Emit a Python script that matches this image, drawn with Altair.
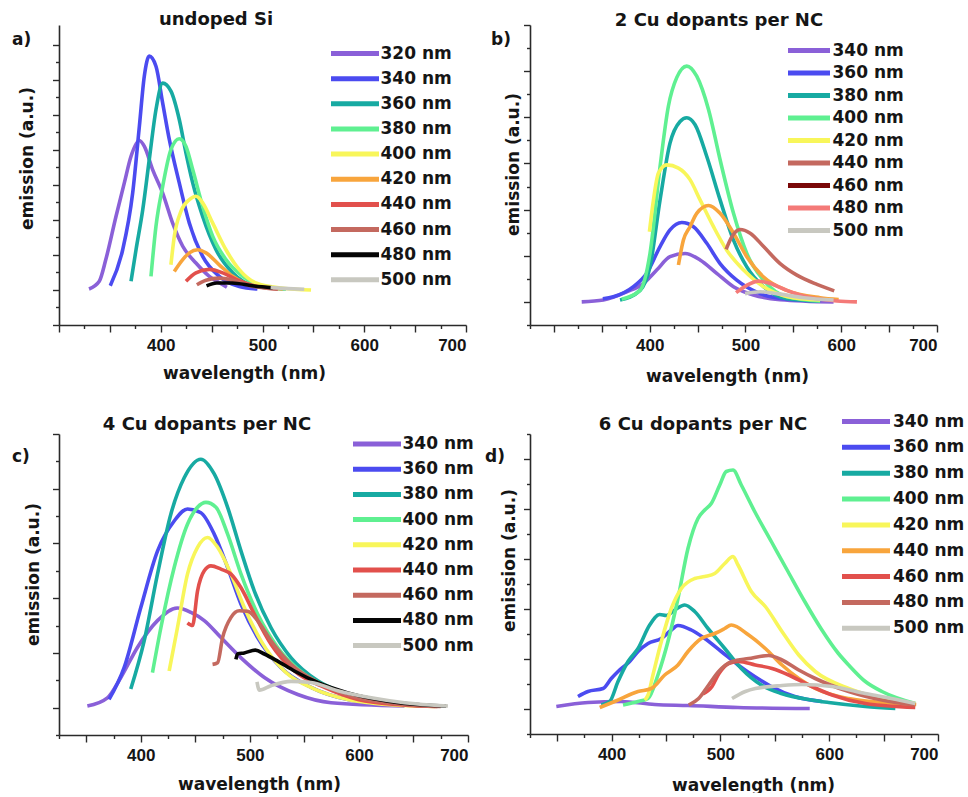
import altair as alt
import pandas as pd

# ---------------------------------------------------------------------------
# Emission spectra: each list holds (emission wavelength in nm, emission a.u.)
# ---------------------------------------------------------------------------

# a) undoped Si, excitation wavelength given by the name
a_320 = [(329.5, 0.03), (339.6, 0.25), (346.0, 0.87), (356.0, 2.10), (364.2, 3.06),
         (370.8, 3.82), (379.0, 4.27), (383.9, 4.10), (392.0, 3.44), (401.9, 2.77),
         (411.7, 1.91), (421.6, 1.25), (434.6, 0.77), (447.7, 0.39), (458.0, 0.20),
         (465.0, 0.08)]
a_340 = [(350.4, 0.12), (362.6, 1.15), (372.4, 2.77), (379.0, 4.68), (383.8, 6.10),
         (388.7, 6.68), (395.3, 6.39), (401.9, 5.34), (408.4, 4.30), (418.2, 3.06),
         (428.1, 1.91), (441.2, 0.96), (457.5, 0.39), (477.2, 0.10), (495.0, 0.03)]
a_360 = [(370.8, 0.25), (375.7, 1.15), (382.3, 2.29), (388.7, 3.72), (395.3, 5.15),
         (401.9, 5.91), (410.0, 5.68), (418.2, 4.87), (424.8, 3.91), (431.4, 3.06),
         (441.2, 2.10), (454.3, 1.15), (470.7, 0.49), (493.6, 0.10), (523.0, 0.03)]
a_380 = [(390.4, 0.39), (395.3, 1.82), (401.9, 2.96), (410.0, 4.01), (418.2, 4.32),
         (424.8, 4.10), (431.4, 3.44), (441.2, 2.39), (451.1, 1.53), (464.1, 0.87),
         (480.5, 0.39), (500.2, 0.10), (523.0, 0.03)]
a_400 = [(410.0, 0.72), (413.3, 1.53), (419.9, 2.25), (428.1, 2.58), (434.6, 2.68),
         (441.2, 2.49), (451.1, 1.91), (464.1, 1.15), (477.2, 0.58), (493.6, 0.20),
         (520.0, 0.05), (547.7, 0.00)]
a_420 = [(413.3, 0.53), (421.6, 0.87), (428.1, 1.06), (436.3, 1.15), (444.5, 1.06),
         (457.5, 0.72), (470.7, 0.39), (487.0, 0.15), (520.0, 0.03)]
a_440 = [(424.8, 0.25), (434.6, 0.49), (447.7, 0.59), (460.9, 0.49), (474.0, 0.30),
         (490.4, 0.13), (515.0, 0.03)]
a_460 = [(435.5, 0.15), (444.5, 0.28), (457.5, 0.34), (470.7, 0.28), (487.0, 0.13),
         (515.0, 0.02)]
a_480 = [(445.0, 0.12), (455.0, 0.20), (470.0, 0.20), (490.0, 0.12), (510.0, 0.06)]
a_500 = [(508.0, 0.07), (525.0, 0.04), (541.0, 0.02)]

# b) 2 Cu dopants per NC
b_340 = [(329.0, 0.00), (351.6, 0.04), (376.0, 0.22), (393.4, 0.40), (407.3, 0.69),
         (421.2, 0.98), (436.9, 1.05), (452.6, 0.91), (470.0, 0.62), (487.5, 0.33),
         (508.4, 0.15), (536.2, 0.05), (592.0, 0.00)]
b_360 = [(351.0, 0.07), (362.0, 0.11), (383.0, 0.33), (396.9, 0.62), (410.8, 1.20),
         (421.2, 1.56), (433.5, 1.72), (445.7, 1.63), (459.6, 1.27), (473.5, 0.83),
         (490.9, 0.47), (515.3, 0.18), (543.2, 0.06), (578.0, 0.02)]
b_380 = [(369.0, 0.04), (389.9, 0.25), (400.3, 0.76), (410.8, 2.21), (421.2, 3.44),
         (431.7, 3.91), (438.7, 3.99), (447.4, 3.84), (459.6, 3.15), (473.5, 2.21),
         (487.5, 1.34), (501.4, 0.76), (518.9, 0.33), (543.2, 0.07), (578.0, 0.02)]
b_400 = [(370.8, 0.06), (389.9, 0.25), (400.3, 1.05), (410.8, 2.93), (419.5, 4.24),
         (428.2, 4.86), (438.7, 5.11), (449.1, 4.89), (461.4, 4.17), (473.5, 3.08),
         (487.5, 1.92), (501.4, 1.05), (518.9, 0.47), (543.2, 0.11), (578.0, 0.02)]
b_420 = [(399.7, 1.52), (403.9, 2.21), (409.1, 2.79), (417.8, 2.97), (430.0, 2.90),
         (442.1, 2.65), (452.6, 2.21), (466.6, 1.63), (480.5, 1.12), (498.0, 0.69),
         (518.9, 0.33), (543.2, 0.12), (578.0, 0.04)]
b_440 = [(430.0, 0.80), (435.2, 1.34), (442.1, 1.63), (449.1, 1.92), (461.4, 2.09),
         (473.5, 1.92), (487.5, 1.49), (501.4, 0.98), (518.9, 0.54), (543.2, 0.25),
         (578.0, 0.09), (597.3, 0.05)]
b_460 = [(479.8, 1.14), (485.7, 1.41), (494.4, 1.57), (504.9, 1.49), (518.9, 1.20),
         (536.2, 0.83), (553.7, 0.58), (574.6, 0.38), (592.7, 0.24)]
b_480 = [(490.2, 0.20), (501.4, 0.36), (513.6, 0.45), (525.8, 0.40), (543.2, 0.25),
         (564.1, 0.11), (595.5, 0.02), (616.4, 0.00)]
b_500 = [(499.6, 0.18), (515.3, 0.22), (532.8, 0.18), (560.7, 0.09), (592.0, 0.04)]

# c) 4 Cu dopants per NC
c_340 = [(351.0, 0.03), (369.4, 0.18), (381.7, 0.55), (396.9, 1.10), (415.3, 1.59),
         (433.6, 1.82), (446.0, 1.74), (458.2, 1.59), (473.5, 1.28), (491.9, 0.91),
         (513.3, 0.55), (543.9, 0.24), (574.5, 0.09), (641.8, 0.03)]
c_360 = [(370.9, 0.15), (384.7, 0.73), (400.0, 1.83), (415.3, 2.86), (430.6, 3.41),
         (442.8, 3.63), (455.1, 3.56), (467.3, 3.17), (479.6, 2.56), (491.9, 1.89),
         (507.1, 1.28), (528.6, 0.73), (556.1, 0.37), (589.8, 0.15), (641.8, 0.05)]
c_380 = [(390.8, 0.34), (403.1, 1.22), (415.3, 2.44), (427.6, 3.54), (439.8, 4.20),
         (455.1, 4.54), (467.3, 4.27), (479.6, 3.66), (491.9, 2.86), (504.1, 2.13),
         (519.4, 1.46), (537.8, 0.91), (562.2, 0.49), (589.8, 0.24), (641.8, 0.05)]
c_400 = [(410.7, 0.64), (418.4, 1.46), (430.6, 2.56), (442.8, 3.35), (452.0, 3.66),
         (459.7, 3.75), (468.9, 3.66), (479.6, 3.17), (491.9, 2.44), (507.1, 1.71),
         (525.5, 1.10), (550.0, 0.61), (580.6, 0.31), (641.8, 0.05)]
c_420 = [(426.0, 0.67), (433.6, 1.46), (442.8, 2.44), (452.0, 2.93), (461.2, 3.11),
         (470.4, 2.93), (482.7, 2.44), (494.9, 1.83), (510.2, 1.22), (531.6, 0.67),
         (559.2, 0.34), (589.8, 0.15), (640.0, 0.04), (670.0, 0.02)]
c_440 = [(442.8, 1.55), (447.4, 1.50), (452.0, 2.13), (458.2, 2.50), (464.3, 2.59),
         (473.5, 2.53), (482.7, 2.44), (491.9, 2.19), (504.1, 1.71), (519.4, 1.16),
         (540.8, 0.67), (568.4, 0.37), (599.0, 0.15), (640.0, 0.05), (672.0, 0.02)]
c_460 = [(465.8, 0.79), (470.4, 0.82), (475.0, 1.28), (482.7, 1.65), (490.3, 1.77),
         (497.9, 1.76), (507.1, 1.59), (519.4, 1.22), (537.8, 0.79), (562.2, 0.46),
         (592.9, 0.21), (640.0, 0.06), (675.0, 0.02)]
c_480 = [(487.2, 0.88), (488.7, 0.98), (494.9, 1.00), (505.0, 1.05), (513.3, 0.98),
         (525.5, 0.85), (540.8, 0.67), (562.2, 0.46), (589.8, 0.27), (640.0, 0.08),
         (680.0, 0.03)]
c_500 = [(506.5, 0.47), (508.7, 0.32), (519.4, 0.40), (537.8, 0.48), (556.1, 0.46),
         (580.6, 0.31), (611.3, 0.18), (641.8, 0.09), (681.6, 0.03)]

# d) 6 Cu dopants per NC
d_340 = [(349.2, 0.05), (378.3, 0.13), (408.9, 0.15), (439.6, 0.09), (470.2, 0.07),
         (516.2, 0.03), (582.1, 0.01)]
d_360 = [(369.1, 0.25), (378.3, 0.35), (392.1, 0.41), (399.7, 0.61), (405.9, 0.75),
         (416.6, 0.95), (424.3, 1.15), (433.5, 1.31), (445.7, 1.41), (454.9, 1.58),
         (461.0, 1.67), (473.3, 1.58), (485.6, 1.41), (500.8, 1.15), (516.2, 0.88),
         (531.5, 0.65), (546.8, 0.45), (568.3, 0.25), (593.4, 0.15)]
d_380 = [(390.5, 0.08), (398.3, 0.15), (405.9, 0.55), (415.1, 0.95), (424.3, 1.21),
         (435.0, 1.68), (444.2, 1.89), (450.3, 1.87), (458.0, 1.98), (467.2, 2.08),
         (476.4, 1.95), (488.6, 1.61), (504.0, 1.21), (519.2, 0.81), (537.6, 0.48),
         (556.0, 0.31), (583.6, 0.18), (599.5, 0.13), (633.2, 0.05), (660.8, 0.01)]
d_400 = [(410.5, 0.08), (424.3, 0.15), (433.5, 0.21), (442.6, 0.68), (451.8, 1.35),
         (461.0, 2.21), (470.2, 3.21), (479.4, 3.81), (485.6, 3.98), (491.6, 4.11),
         (499.4, 4.48), (505.4, 4.75), (511.6, 4.78), (519.2, 4.48), (531.5, 3.95),
         (546.8, 3.35), (562.1, 2.75), (577.5, 2.15), (592.7, 1.60), (608.1, 1.12),
         (617.9, 0.88), (633.2, 0.55), (648.5, 0.35), (679.1, 0.11)]
d_420 = [(430.4, 0.18), (433.5, 0.28), (438.0, 0.68), (445.7, 1.35), (454.9, 2.01),
         (464.1, 2.41), (476.4, 2.61), (485.6, 2.65), (494.8, 2.71), (504.0, 2.91),
         (511.6, 3.05), (516.2, 2.88), (528.4, 2.35), (541.3, 2.05), (556.6, 1.55),
         (572.0, 1.08), (587.2, 0.75), (617.9, 0.41), (648.5, 0.21), (679.1, 0.11)]
d_440 = [(389.1, 0.03), (402.8, 0.15), (424.3, 0.35), (436.5, 0.41), (448.8, 0.68),
         (461.0, 0.88), (470.2, 1.15), (482.4, 1.41), (494.8, 1.51), (504.0, 1.61),
         (510.0, 1.68), (526.0, 1.48), (541.3, 1.21), (556.6, 0.88), (572.0, 0.61),
         (587.2, 0.41), (617.9, 0.21), (663.9, 0.11), (680.0, 0.09)]
d_460 = [(484.0, 0.30), (492.3, 0.45), (498.4, 0.70), (507.6, 0.91), (516.8, 0.95),
         (532.1, 0.88), (547.4, 0.81), (562.8, 0.68), (581.2, 0.48), (602.6, 0.28),
         (633.2, 0.11), (679.1, 0.03)]
d_480 = [(470.9, 0.08), (480.0, 0.21), (489.2, 0.48), (498.4, 0.75), (510.7, 0.95),
         (526.0, 1.01), (544.4, 1.07), (556.6, 0.98), (572.0, 0.78), (587.2, 0.61),
         (617.9, 0.35), (648.5, 0.18), (679.1, 0.08)]
d_500 = [(510.7, 0.21), (522.9, 0.35), (532.1, 0.41), (556.6, 0.47), (575.0, 0.49),
         (602.6, 0.45), (633.2, 0.31), (663.9, 0.18), (679.1, 0.11)]

# Series labels (excitation wavelengths) per panel
labels_a = ["320 nm", "340 nm", "360 nm", "380 nm", "400 nm",
            "420 nm", "440 nm", "460 nm", "480 nm", "500 nm"]
labels_bcd = ["340 nm", "360 nm", "380 nm", "400 nm", "420 nm",
              "440 nm", "460 nm", "480 nm", "500 nm"]

# Palette
PURPLE = "#8a60d8"
BLUE = "#4b4bf0"
TEAL = "#17aaa2"
GREEN = "#5ff091"
YELLOW = "#f8f65a"
ORANGE = "#f8a53c"
RED = "#e2504c"
BROWN = "#c4695f"
BLACK = "#050505"
GREY = "#c8c8c0"
DARKRED = "#7a0808"
SALMON = "#f47a78"

colors_a = [PURPLE, BLUE, TEAL, GREEN, YELLOW, ORANGE, RED, BROWN, BLACK, GREY]
colors_b_lines = [PURPLE, BLUE, TEAL, GREEN, YELLOW, ORANGE, BROWN, SALMON, GREY]
colors_b_legend = [PURPLE, BLUE, TEAL, GREEN, YELLOW, BROWN, DARKRED, SALMON, GREY]
colors_c = [PURPLE, BLUE, TEAL, GREEN, YELLOW, RED, BROWN, BLACK, GREY]
colors_d = [PURPLE, BLUE, TEAL, GREEN, YELLOW, ORANGE, RED, BROWN, GREY]

TEXT = "#151515"
AXIS = "#2a2a2a"
TITLE_FONT = "DejaVu Sans"
TICK_FONT = "Liberation Sans"


def frange(start, stop, step):
    vals = []
    v = start
    while v <= stop + 1e-9:
        vals.append(round(v, 3))
        v += step
    return vals


def panel(curves, labels, line_colors, legend_colors, spec):
    # curve keys differ from the legend labels so the two colour scales stay separate
    keys = [f"{lab} curve" for lab in labels]
    rows = []
    for key_name, pts in zip(keys, curves):
        for wl, em in pts:
            rows.append({"curve": key_name, "wl": wl, "em": em})
    df = pd.DataFrame(rows)

    x_ticks = frange(spec["xdom"][0], 700, 25)
    y_ticks = frange(spec["ydom"][0], spec["ytop_tick"], 0.5)

    x_enc = alt.X(
        "wl:Q",
        scale=alt.Scale(domain=spec["xdom"], nice=False, zero=False),
        axis=alt.Axis(
            values=x_ticks,
            labelExpr="datum.value % 100 === 0 && datum.value > 300 ? datum.value : ''",
            tickSize={"condition": {"test": "datum.value % 50 === 0", "value": 7}, "value": 3.5},
            grid=False, domainColor=AXIS, domainWidth=1.6, tickColor=AXIS, tickWidth=1.4,
            labelFont=TICK_FONT, labelFontSize=17, labelFontWeight="bold", labelColor=TEXT,
            labelPadding=5, labelOverlap=False,
            title="wavelength (nm)", titleFont=TITLE_FONT, titleFontSize=17,
            titleFontWeight="bold", titleColor=TEXT, titleX=spec["xtitle_x"],
            titleY=spec["xtitle_y"], titleBaseline="alphabetic", titleAlign="center",
        ),
    )
    y_enc = alt.Y(
        "em:Q",
        scale=alt.Scale(domain=spec["ydom"], nice=False, zero=False),
        axis=alt.Axis(
            values=y_ticks, labels=False,
            tickSize={"condition": {"test": "datum.value % 1 === 0", "value": 6.5}, "value": 3.5},
            grid=False, domainColor=AXIS, domainWidth=1.6, tickColor=AXIS, tickWidth=1.4,
            title="emission (a.u.)", titleFont=TITLE_FONT, titleFontSize=17,
            titleFontWeight="bold", titleColor=TEXT, titleAngle=270,
            titleX=spec["ytitle_x"], titleY=spec["ytitle_y"],
            titleBaseline="alphabetic", titleAlign="center",
        ),
    )

    lines = alt.Chart(df).mark_line(strokeWidth=3.6, interpolate="monotone").encode(
        x=x_enc,
        y=y_enc,
        stroke=alt.Stroke("curve:N", scale=alt.Scale(domain=keys, range=line_colors),
                          legend=None),
    )

    # one-point series: they draw nothing, but carry the legend entries
    key_df = pd.DataFrame({"label": labels, "wl": [spec["xdom"][0] + 50] * len(labels),
                           "em": [0.0] * len(labels)})
    key = alt.Chart(key_df).mark_line(strokeWidth=4).encode(
        x=x_enc,
        y=y_enc,
        color=alt.Color(
            "label:N", sort=labels,
            scale=alt.Scale(domain=labels, range=legend_colors),
            legend=alt.Legend(
                title=None, orient="none", legendX=spec["lx"], legendY=spec["ly"],
                padding=0, offset=0, symbolType=spec["sym"], symbolSize=36,
                symbolStrokeWidth=5, symbolOffset=spec["soff"], labelOffset=spec["loff"],
                labelFont=TITLE_FONT, labelFontSize=17, labelFontWeight="bold",
                labelColor=TEXT, rowPadding=spec["rowpad"], labelLimit=200,
            ),
        ),
    )

    heading = alt.Chart(pd.DataFrame({"t": [spec["title"]]})).mark_text(
        align="center", baseline="alphabetic", font=TITLE_FONT, fontSize=18,
        fontWeight="bold", color=TEXT,
    ).encode(text="t:N", x=alt.value(spec["tx"]), y=alt.value(spec["ty"]))

    tag = alt.Chart(pd.DataFrame({"t": [spec["tag"]]})).mark_text(
        align="left", baseline="alphabetic", font=TITLE_FONT, fontSize=17,
        fontWeight="bold", color=TEXT,
    ).encode(text="t:N", x=alt.value(spec["tag_x"]), y=alt.value(spec["tag_y"]))

    return alt.layer(lines, key, heading, tag).properties(width=spec["w"], height=spec["h"])


pa = panel(
    [a_320, a_340, a_360, a_380, a_400, a_420, a_440, a_460, a_480, a_500],
    labels_a, colors_a, colors_a,
    dict(w=407, h=300, xdom=[300, 700], ydom=[-1, 7.57], ytop_tick=7,
         xtitle_x=185, xtitle_y=53, ytitle_x=-27, ytitle_y=133,
         lx=269, ly=20, sym="M-8,0H8", soff=18.5, loff=17, rowpad=4.15,
         tag="a)", tag_x=-47, tag_y=20, title="undoped Si", tx=157, ty=0),
)
pb = panel(
    [b_340, b_360, b_380, b_400, b_420, b_440, b_460, b_480, b_500],
    labels_bcd, colors_b_lines, colors_b_legend,
    dict(w=407, h=300, xdom=[275, 700], ydom=[-0.5, 6.0], ytop_tick=6,
         xtitle_x=197, xtitle_y=56, ytitle_x=-12, ytitle_y=139,
         lx=255, ly=17, sym="M-7,0H7", soff=15.5, loff=15, rowpad=1.5,
         tag="b)", tag_x=-39, tag_y=20, title="2 Cu dopants per NC", tx=189, ty=1),
)
pc = panel(
    [c_340, c_360, c_380, c_400, c_420, c_440, c_460, c_480, c_500],
    labels_bcd, colors_c, colors_c,
    dict(w=409, h=301, xdom=[325, 700], ydom=[-0.5, 5.0], ytop_tick=5,
         xtitle_x=200, xtitle_y=54, ytitle_x=-21, ytitle_y=140,
         lx=291, ly=1.5, sym="M-8,0H8", soff=18.5, loff=17, rowpad=4.2,
         tag="c)", tag_x=-47, tag_y=28, title="4 Cu dopants per NC", tx=148, ty=-4),
)
pd_ = panel(
    [d_340, d_360, d_380, d_400, d_420, d_440, d_460, d_480, d_500],
    labels_bcd, colors_d, colors_d,
    dict(w=408, h=300, xdom=[325, 700], ydom=[-0.5, 5.5], ytop_tick=5.5,
         xtitle_x=223, xtitle_y=56, ytitle_x=-16, ytitle_y=126,
         lx=309, ly=-21, sym="M-8,0H8", soff=18.5, loff=18.5, rowpad=4.85,
         tag="d)", tag_x=-45, tag_y=28, title="6 Cu dopants per NC", tx=173, ty=-4),
)

chart = alt.concat(
    pa, pb, pc, pd_, columns=2, bounds="flush",
    spacing={"row": 109, "column": 62},
).resolve_scale(
    x="independent", y="independent", stroke="independent", color="independent",
).resolve_legend(
    color="independent", stroke="independent",
).properties(
    padding={"left": 12, "top": 11, "right": 0, "bottom": 0},
    background="white",
).configure_view(strokeWidth=0)

chart.save("out.html", embed_options={"renderer": "svg", "actions": False})
